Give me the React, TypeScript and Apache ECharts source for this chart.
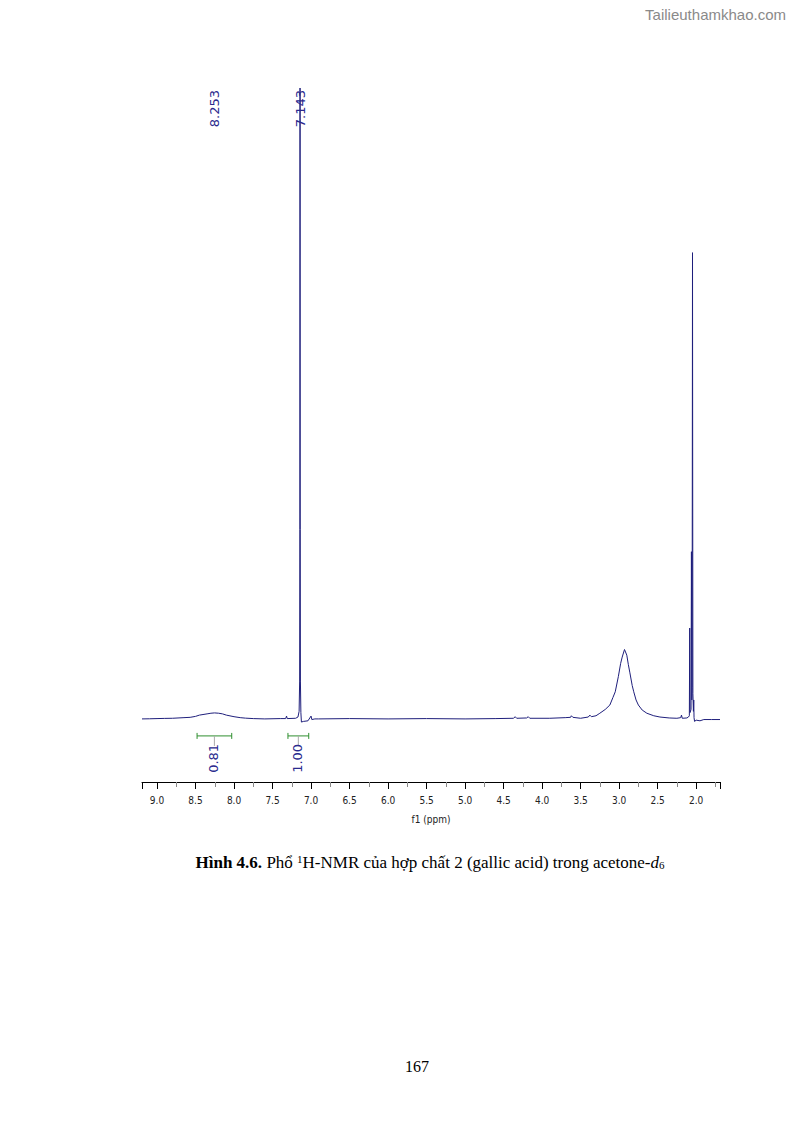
import React, { useEffect, useRef } from "react";
import * as echarts from "echarts";

// ---- Spectrum data: [chemical shift (ppm), intensity] ----
const baselineLeft: [number, number][] = [
  [9.195, 0], [9.1, 0.02], [9.0, 0.05], [8.9, 0.08], [8.8, 0.1], [8.65, 0.2],
];
const broadOH: [number, number][] = [
  [8.57, 0.25], [8.5, 0.4], [8.45, 0.6], [8.35, 0.8], [8.3, 0.9], [8.253, 0.95],
  [8.2, 0.9], [8.15, 0.8], [8.1, 0.6], [8.0, 0.35], [7.92, 0.2], [7.85, 0.12],
  [7.75, 0.05], [7.6, 0.0], [7.4, 0.05],
];
const aromaticPeak: [number, number][] = [
  [7.33, 0.05], [7.318, 0.45], [7.31, 0.05], [7.2, 0.1], [7.17, 0.3],
  [7.155, 1.2], [7.148, 6], [7.145, 30], [7.143, 100], [7.141, 30],
  [7.138, 6], [7.132, 1], [7.125, -0.5], [7.1, -0.4], [7.04, -0.3],
  [7.0, 0.45], [6.99, -0.1], [6.95, 0],
];
const baselineMid: [number, number][] = [
  [6.9, 0], [6.5, 0.05], [6.0, 0], [5.5, 0.05], [5.0, 0], [4.6, 0.05],
  [4.37, 0.1], [4.35, 0.35], [4.33, 0.1], [4.2, 0.15], [4.18, 0.35], [4.16, 0.1],
  [3.9, 0.1], [3.7, 0.2], [3.63, 0.25], [3.62, 0.5], [3.6, 0.25], [3.5, 0.1],
];
const waterPeak: [number, number][] = [
  [3.4, 0.3], [3.38, 0.6], [3.36, 0.35], [3.3, 0.5], [3.25, 0.9], [3.18, 1.5],
  [3.12, 2.2], [3.08, 3.4], [3.05, 4.3], [3.01, 6.7], [2.98, 8.8], [2.96, 9.8],
  [2.93, 11.0], [2.9, 10.1], [2.88, 8.6], [2.86, 7.3], [2.83, 5.3], [2.81, 4.3],
  [2.78, 3.0], [2.75, 2.2], [2.7, 1.4], [2.64, 0.9], [2.55, 0.5], [2.47, 0.3],
  [2.35, 0.15], [2.25, 0.1], [2.2, 0.2], [2.19, 0.6], [2.18, 0.1],
];
const acetonePeak: [number, number][] = [
  [2.12, 0.15], [2.1, 0.3], [2.088, 0.5], [2.083, 14.4], [2.079, 1.0],
  [2.066, 1.5], [2.061, 26.5], [2.056, 3], [2.052, 5], [2.047, 73.9],
  [2.042, 4], [2.035, 1.2], [2.031, 3.0], [2.027, 0.2], [2.02, -0.4],
  [2.0, -0.2], [1.95, -0.3], [1.9, -0.1], [1.8, -0.1], [1.69, -0.1],
];

// Peak picking labels (ppm)
const peakShifts: number[] = [8.253, 7.143];

// Integration regions: [from ppm, to ppm] and their values
const integralRanges: [number, number][] = [[8.48, 8.03], [7.3, 7.03]];
const integralValues: string[] = ["0.81", "1.00"];

const xTitle = "f1 (ppm)";
const caption = "{b|Hình 4.6.} Phổ {sup|1}H-NMR của hợp chất 2 (gallic acid) trong acetone-{i|d}{sub|6}";
const watermark = "Tailieuthamkhao.com";
const pageNumber = "167";

const spectrum = [
  ...baselineLeft, ...broadOH, ...aromaticPeak, ...baselineMid, ...waterPeak, ...acetonePeak,
];

const NAVY = "#1f1f7c";
const LABEL = "#2a2a8e";
const GREEN = "#2f8f2f";
const AXIS_FONT = "'Liberation Sans Narrow', 'DejaVu Sans Condensed', 'Liberation Sans', sans-serif";

export default function App() {
  const ref = useRef<HTMLDivElement>(null);
  useEffect(() => {
    if (!ref.current) return;
    const chart = echarts.init(ref.current, null, { renderer: "svg" });
    const option: any = {
      animation: false,
      grid: { left: 142, right: 74, top: 88, bottom: 341, containLabel: false },
      xAxis: {
        type: "value",
        inverse: true,
        min: 1.69,
        max: 9.195,
        splitNumber: 15,
        axisLine: { onZero: false, lineStyle: { color: "#000", width: 1 } },
        axisTick: { length: 7, lineStyle: { color: "#000" } },
        minorTick: { show: true, splitNumber: 2, length: 5, lineStyle: { color: "#888" } },
        splitLine: { show: false },
        minorSplitLine: { show: false },
        axisLabel: {
          formatter: (v: number) => v.toFixed(1),
          showMinLabel: false,
          showMaxLabel: false,
          fontFamily: AXIS_FONT,
          fontSize: 10,
          color: "#222",
          margin: 13,
        },
        name: xTitle,
        nameLocation: "middle",
        nameGap: 32,
        nameTextStyle: { fontFamily: AXIS_FONT, fontSize: 10, color: "#222" },
      },
      yAxis: { type: "value", min: -10, max: 100, show: false },
      series: [
        {
          type: "line",
          data: spectrum,
          symbol: "none",
          lineStyle: { color: NAVY, width: 1 },
          z: 2,
        },
        {
          type: "custom",
          data: peakShifts.map((p) => [p]),
          encode: { x: 0 },
          clip: false,
          z: 3,
          renderItem: (params: any, api: any) => {
            const p = api.coord([api.value(0), 100]);
            return {
              type: "text",
              x: p[0],
              y: p[1] + 2,
              rotation: Math.PI / 2,
              style: {
                text: peakShifts[params.dataIndex].toFixed(3),
                align: "right",
                verticalAlign: "middle",
                fontFamily: "DejaVu Sans",
                fontSize: 13,
                fill: LABEL,
              },
            };
          },
        },
        {
          type: "custom",
          data: integralRanges,
          encode: { x: [0, 1] },
          clip: false,
          z: 3,
          renderItem: (params: any, api: any) => {
            const a = api.coord([api.value(0), 0]);
            const b = api.coord([api.value(1), 0]);
            const y = a[1] + 17;
            const mid = (a[0] + b[0]) / 2;
            return {
              type: "group",
              children: [
                { type: "line", shape: { x1: a[0], y1: y, x2: b[0], y2: y }, style: { stroke: GREEN, lineWidth: 1 } },
                { type: "line", shape: { x1: a[0], y1: y - 3, x2: a[0], y2: y + 3 }, style: { stroke: GREEN, lineWidth: 1 } },
                { type: "line", shape: { x1: b[0], y1: y - 3, x2: b[0], y2: y + 3 }, style: { stroke: GREEN, lineWidth: 1 } },
                { type: "line", shape: { x1: mid, y1: y, x2: mid, y2: y + 10 }, style: { stroke: "#aaa", lineWidth: 1 } },
                {
                  type: "text",
                  x: mid - 1,
                  y: y + 8,
                  rotation: Math.PI / 2,
                  style: {
                    text: integralValues[params.dataIndex],
                    align: "right",
                    verticalAlign: "middle",
                    fontFamily: "DejaVu Sans",
                    fontSize: 13,
                    fill: LABEL,
                  },
                },
              ],
            };
          },
        },
      ],
      graphic: [
        {
          type: "text",
          x: 786,
          y: 14,
          style: {
            text: watermark,
            align: "right",
            verticalAlign: "middle",
            fontFamily: "Liberation Sans",
            fontSize: 15,
            fill: "#8a8a8a",
          },
        },
        {
          type: "text",
          x: 430,
          y: 862,
          style: {
            text: caption,
            align: "center",
            verticalAlign: "middle",
            fontFamily: "Liberation Serif",
            fontSize: 17,
            fill: "#000",
            rich: {
              b: { fontFamily: "Liberation Serif", fontSize: 17, fontWeight: "bold", fill: "#000" },
              sup: { fontFamily: "Liberation Serif", fontSize: 11, verticalAlign: "top", fill: "#000" },
              i: { fontFamily: "Liberation Serif", fontSize: 17, fontStyle: "italic", fill: "#000" },
              sub: { fontFamily: "Liberation Serif", fontSize: 11, verticalAlign: "bottom", fill: "#000" },
            },
          },
        },
        {
          type: "text",
          x: 417,
          y: 1066,
          style: {
            text: pageNumber,
            align: "center",
            verticalAlign: "middle",
            fontFamily: "Liberation Serif",
            fontSize: 16,
            fill: "#000",
          },
        },
      ],
    };
    chart.setOption(option);
    return () => chart.dispose();
  }, []);
  return (
    <div
      ref={ref}
      style={{ position: "absolute", left: 0, top: 0, width: 794, height: 1123, background: "#fff" }}
    />
  );
}
